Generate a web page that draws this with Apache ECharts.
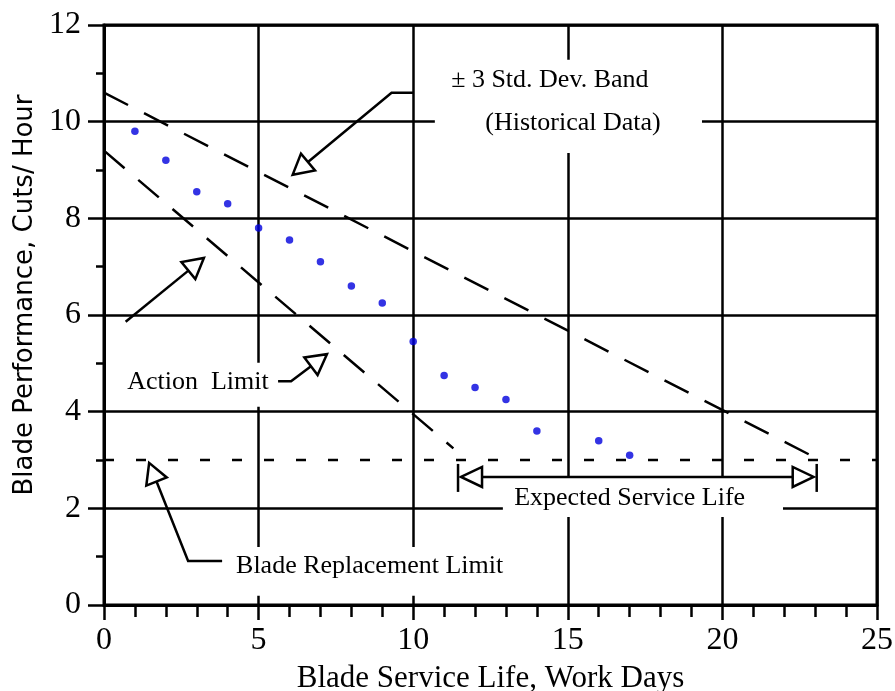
<!DOCTYPE html>
<html>
<head>
<meta charset="utf-8">
<script src="https://cdn.jsdelivr.net/npm/echarts@6/dist/echarts.min.js"></script>
<style>
html,body{margin:0;padding:0;background:#fff;}
#chart{width:895px;height:691px;}
</style>
</head>
<body>
<div id="chart"></div>
<script>
// ---- data ----
const days = [1, 2, 3, 4, 5, 6, 7, 8, 9, 10, 11, 12, 13, 14, 16, 17];
const performance = [9.8, 9.2, 8.55, 8.3, 7.8, 7.55, 7.1, 6.6, 6.25, 5.45, 4.75, 4.5, 4.25, 3.6, 3.4, 3.1];
const upperBand = [[0, 10.6], [23, 3.05]];
const lowerBand = [[0, 9.4], [11.3, 3.24]];
const replacementLimit = [[0, 3], [25, 3]];
const serviceLife = [11.45, 23.05];
const serviceLifeY = 2.65;
const xTicks = [0, 5, 10, 15, 20, 25];
const yTicks = [0, 2, 4, 6, 8, 10, 12];

// annotation anchors (data coordinates)
const stdDevArrow = [[10.0, 10.6], [9.3, 10.6], [6.1, 8.9]];
const actionArrowA = [[0.7, 5.86], [3.23, 7.18]];
const actionArrowB = [[5.63, 4.63], [6.05, 4.63], [7.21, 5.19]];
const replaceArrow = [[3.82, 0.91], [2.72, 0.91], [1.46, 2.94]];
const labels = [
  { text: '\u00B1 3 Std. Dev. Band', pos: [14.42, 10.86] },
  { text: '(Historical Data)', pos: [15.17, 9.96] },
  { text: 'Action  Limit', pos: [3.04, 4.62] },
  { text: 'Blade Replacement Limit', pos: [8.59, 0.8] },
  { text: 'Expected Service Life', pos: [17.0, 2.21] }
];
const whiteBoxes = [
  [[10.7, 11.28], [19.34, 9.35]],
  [[0.45, 5.01], [5.53, 4.1]],
  [[4.01, 1.2], [13.3, 0.19]],
  [[12.9, 2.65], [21.96, 1.82]]
];

const SERIF = '"Liberation Serif","Times New Roman",serif';
const LW = 2.5;

function head(P, Q, L, W) {
  const dx = P[0] - Q[0], dy = P[1] - Q[1];
  const len = Math.sqrt(dx * dx + dy * dy);
  const ux = dx / len, uy = dy / len;
  const bx = P[0] - ux * L, by = P[1] - uy * L;
  const nx = -uy, ny = ux;
  return {
    base: [bx, by],
    poly: [[P[0], P[1]], [bx + nx * W, by + ny * W], [bx - nx * W, by - ny * W]]
  };
}

function arrowEls(pts, api) {
  const px = pts.map(p => api.coord(p));
  const n = px.length;
  const h = head(px[n - 1], px[n - 2], 20, 11);
  const linePts = px.slice(0, n - 1).concat([h.base]);
  return [
    { type: 'polyline', shape: { points: linePts }, style: { stroke: '#000', lineWidth: LW, fill: null } },
    { type: 'polygon', shape: { points: h.poly }, style: { fill: '#fff', stroke: '#000', lineWidth: LW } }
  ];
}

function renderBoxes(params, api) {
  const children = whiteBoxes.map(b => {
    const a = api.coord(b[0]), c = api.coord(b[1]);
    return { type: 'rect', shape: { x: a[0], y: a[1], width: c[0] - a[0], height: c[1] - a[1] }, style: { fill: '#fff' } };
  });
  return { type: 'group', children: children };
}

function renderAnno(params, api) {
  let children = [];
  children = children.concat(arrowEls(stdDevArrow, api));
  children = children.concat(arrowEls(actionArrowA, api));
  children = children.concat(arrowEls(actionArrowB, api));
  children = children.concat(arrowEls(replaceArrow, api));
  const L = api.coord([serviceLife[0], serviceLifeY]);
  const R = api.coord([serviceLife[1], serviceLifeY]);
  const tipL = [L[0] + 3, L[1]], tipR = [R[0] - 3, R[1]];
  const hl = head(tipL, [tipR[0], tipR[1]], 21, 10);
  const hr = head(tipR, [tipL[0], tipL[1]], 21, 10);
  children.push({ type: 'line', shape: { x1: hl.base[0], y1: L[1], x2: hr.base[0], y2: R[1] }, style: { stroke: '#000', lineWidth: LW } });
  children.push({ type: 'polygon', shape: { points: hl.poly }, style: { fill: '#fff', stroke: '#000', lineWidth: LW } });
  children.push({ type: 'polygon', shape: { points: hr.poly }, style: { fill: '#fff', stroke: '#000', lineWidth: LW } });
  children.push({ type: 'line', shape: { x1: L[0], y1: L[1] - 13, x2: L[0], y2: L[1] + 15 }, style: { stroke: '#000', lineWidth: LW } });
  children.push({ type: 'line', shape: { x1: R[0], y1: R[1] - 13, x2: R[0], y2: R[1] + 15 }, style: { stroke: '#000', lineWidth: LW } });
  labels.forEach(l => {
    const p = api.coord(l.pos);
    children.push({
      type: 'text', x: p[0], y: p[1],
      style: { text: l.text, fill: '#000', font: '26px ' + SERIF, align: 'center', verticalAlign: 'middle' }
    });
  });
  return { type: 'group', children: children };
}

const chart = echarts.init(document.getElementById('chart'), null, { renderer: 'canvas' });

const axisCommon = {
  type: 'value',
  axisLine: { show: true, onZero: false, lineStyle: { color: '#000', width: 3 } },
  splitLine: { show: true, lineStyle: { color: '#000', width: LW } }
};

chart.setOption({
  animation: false,
  backgroundColor: '#fff',
  grid: { left: 104, right: 18, top: 25, bottom: 86, show: true, borderColor: '#000', borderWidth: 3, containLabel: false, outerBoundsMode: 'none' },
  graphic: [{
    type: 'text', x: 25, y: 295, rotation: Math.PI / 2,
    style: { text: 'Blade Performance, Cuts/ Hour', fill: '#000', font: '26px "DejaVu Sans", sans-serif', align: 'center', verticalAlign: 'middle' }
  }],
  xAxis: Object.assign({}, axisCommon, {
    min: xTicks[0], max: xTicks[xTicks.length - 1], interval: 5,
    axisTick: { show: true, inside: false, length: 15, lineStyle: { color: '#000', width: LW } },
    minorTick: { show: true, splitNumber: 5, length: 12, lineStyle: { color: '#000', width: LW } },
    axisLabel: { color: '#000', fontFamily: SERIF, fontSize: 32, margin: 20 },
    name: 'Blade Service Life, Work Days',
    nameLocation: 'middle', nameGap: 58,
    nameTextStyle: { color: '#000', fontFamily: SERIF, fontSize: 31 }
  }),
  yAxis: Object.assign({}, axisCommon, {
    min: yTicks[0], max: yTicks[yTicks.length - 1], interval: 2,
    axisTick: { show: true, inside: false, length: 16, lineStyle: { color: '#000', width: LW } },
    minorTick: { show: true, splitNumber: 2, length: 8, lineStyle: { color: '#000', width: LW } },
    axisLabel: { color: '#000', fontFamily: SERIF, fontSize: 32, margin: 23 }
  }),
  series: [
    { type: 'custom', name: 'boxes', z: 1, coordinateSystem: 'cartesian2d', renderItem: renderBoxes, data: [[0, 0]], clip: false, silent: true },
    { type: 'line', name: 'upper', z: 3, data: upperBand, symbol: 'none', lineStyle: { color: '#000', width: LW, type: [27, 18] } },
    { type: 'line', name: 'lower', z: 3, data: lowerBand, symbol: 'none', lineStyle: { color: '#000', width: LW, type: [27, 18] } },
    { type: 'line', name: 'limit', z: 3, data: replacementLimit, symbol: 'none', lineStyle: { color: '#000', width: LW, type: [10, 22] } },
    { type: 'scatter', name: 'perf', z: 4, data: days.map((d, i) => [d, performance[i]]), symbol: 'circle', symbolSize: 7.5, itemStyle: { color: '#0000dd' } },
    { type: 'custom', name: 'anno', z: 5, coordinateSystem: 'cartesian2d', renderItem: renderAnno, data: [[0, 0]], clip: false, silent: true }
  ]
});
</script>
</body>
</html>
